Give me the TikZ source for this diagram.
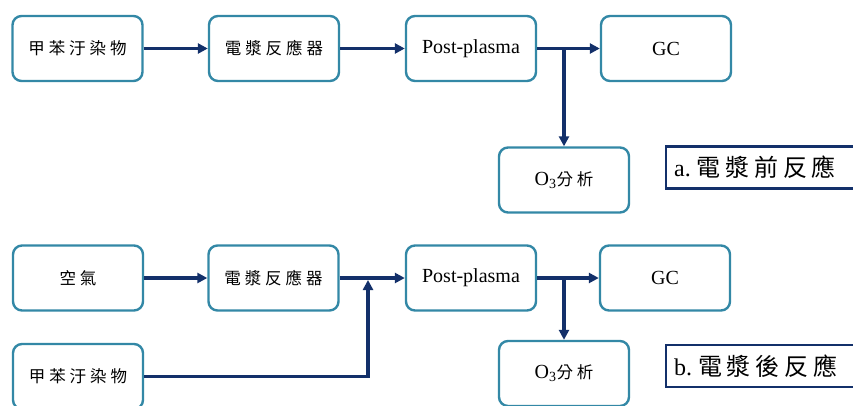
\documentclass[tikz,border=0pt]{standalone}
\usepackage{fontspec}
\setmainfont{Liberation Serif}
\newfontfamily\cjk[LetterSpace=24]{Noto Sans CJK TC}
\newfontfamily\cjkbig[LetterSpace=20]{Noto Sans CJK TC}
\usetikzlibrary{arrows.meta}
\definecolor{boxc}{HTML}{3388A6}
\definecolor{arrc}{HTML}{13306A}
\tikzset{
  blk/.style={draw=boxc, line width=2.4pt, rounded corners=9pt, fill=white,
    minimum width=130pt, minimum height=65pt, inner sep=0pt, align=center},
  arr/.style={draw=arrc, line width=3.4pt, -{Triangle[length=10pt,width=10pt]}},
  lbl/.style={draw=arrc, line width=2.2pt, minimum width=200pt, minimum height=42pt,
    inner sep=0pt, anchor=west, text width=190pt, align=left},
  ct/.style={font=\fontsize{16.5}{19}\selectfont\cjk},
  lt/.style={font=\fontsize{20}{22}\selectfont}
}
\newcommand{\othree}{\fontsize{20}{22}\selectfont O\textsubscript{3}\cjk\fontsize{16.5}{19}\selectfont 分析}
\begin{document}
\begin{tikzpicture}[x=1pt,y=-1pt]
\clip (0,0) rectangle (853,405);
\fill[white] (0,0) rectangle (853,405);
% top row
\node[blk,ct] (tola) at (77.5,48.5) {甲苯汙染物};
\node[blk,ct] (rea) at (274,48.5) {電漿反應器};
\node[blk,lt] (posta) at (471,48.5) {Post-plasma};
\node[blk,lt] (gca) at (666,48.5) {GC};
\node[blk] (o3a) at (564,180) {\othree};
\node[lbl] (la) at (665,167.5) {\hspace*{3pt}\fontsize{24}{26}\selectfont a.\hspace*{6pt}\cjkbig 電漿前反應};
\draw[arr] (tola) -- (rea);
\draw[arr] (rea) -- (posta);
\draw[arr] (posta) -- (gca);
\draw[arr] (o3a.north |- posta.east) -- (o3a.north);
% bottom row
\node[blk,ct] (air) at (78,278) {空氣};
\node[blk,ct] (reb) at (273.5,278) {電漿反應器};
\node[blk,lt] (postb) at (471,278) {Post-plasma};
\node[blk,lt] (gcb) at (665,278) {GC};
\node[blk] (o3b) at (564,373.5) {\othree};
\node[blk,ct] (tolb) at (78,376.5) {甲苯汙染物};
\node[lbl] (lb) at (665,366) {\hspace*{3pt}\fontsize{24}{26}\selectfont b.\hspace*{6pt}\cjkbig 電漿後反應};
\coordinate (m) at (368,280);
\draw[arr] (air) -- (reb);
\draw[arr] (reb) -- (postb);
\draw[arr] (postb) -- (gcb);
\draw[arr] (o3b.north |- postb.east) -- (o3b.north);
\draw[arr] (tolb.east) -| (m);
\end{tikzpicture}
\end{document}
